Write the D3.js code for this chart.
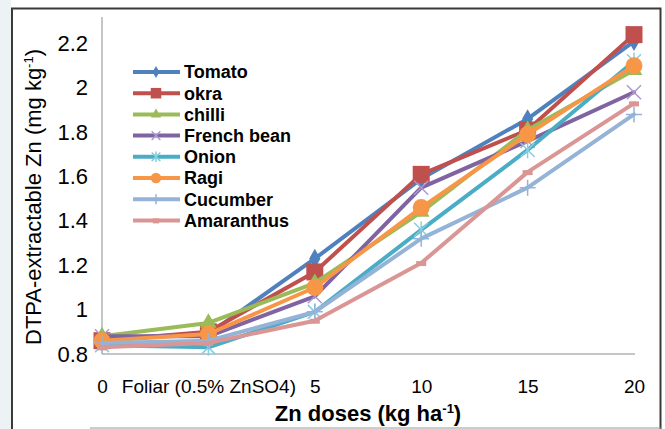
<!DOCTYPE html>
<html>
<head>
<meta charset="utf-8">
<script src="https://cdn.jsdelivr.net/npm/d3@7"></script>
<style>
body { margin: 0; background: #fff; }
svg { display: block; }
</style>
</head>
<body>
<div id="chart"></div>
<script>
// categories and values
var doses = ["0", "Foliar (0.5% ZnSO4)", "5", "10", "15", "20"];
var crops = ["Tomato", "okra", "chilli", "French bean", "Onion", "Ragi", "Cucumber", "Amaranthus"];

var tomato     = [0.87, 0.89, 1.23, 1.59, 1.86, 2.21];
var okra       = [0.86, 0.90, 1.17, 1.61, 1.81, 2.24];
var chilli     = [0.88, 0.94, 1.12, 1.44, 1.81, 2.08];
var frenchBean = [0.88, 0.88, 1.06, 1.55, 1.76, 1.98];
var onion      = [0.84, 0.83, 0.99, 1.36, 1.72, 2.12];
var ragi       = [0.86, 0.89, 1.10, 1.46, 1.79, 2.10];
var cucumber   = [0.85, 0.86, 0.99, 1.32, 1.55, 1.88];
var amaranthus = [0.83, 0.85, 0.95, 1.21, 1.62, 1.93];

var yTicks = [0.8, 1, 1.2, 1.4, 1.6, 1.8, 2, 2.2];

var series = [
    {name: crops[0], values: tomato,     color: "#4F81BD", mark: "#4F81BD", shape: "diamond"},
    {name: crops[1], values: okra,       color: "#C0504D", mark: "#C0504D", shape: "square"},
    {name: crops[2], values: chilli,     color: "#9BBB59", mark: "#9BBB59", shape: "triangle"},
    {name: crops[3], values: frenchBean, color: "#8064A2", mark: "#A99BD0", shape: "x"},
    {name: crops[4], values: onion,      color: "#4BACC6", mark: "#86CFE0", shape: "star"},
    {name: crops[5], values: ragi,       color: "#F79646", mark: "#F79646", shape: "circle"},
    {name: crops[6], values: cucumber,   color: "#95B3D7", mark: "#95B3D7", shape: "plus"},
    {name: crops[7], values: amaranthus, color: "#D99694", mark: "#D99694", shape: "dash"}
];

var width = 665, height = 429;
var plot = {left: 102, right: 634, top: 17, bottom: 354};

var svg = d3.select("#chart")
            .append("svg")
            .attr("width", width)
            .attr("height", height)
            .style("font-family", "'Liberation Sans', Arial, sans-serif");

// slide background strip on the left and the chart frame
svg.append("rect")
    .attr("x", 0).attr("y", 0)
    .attr("width", 11).attr("height", height)
    .attr("fill", "#edf2f5");
svg.append("path")
    .attr("d", "M12,429V8.5H660.5V429")
    .attr("fill", "none")
    .attr("stroke", "#3a3a3a")
    .attr("stroke-width", 2);
svg.append("line")
    .attr("x1", 90).attr("x2", 661)
    .attr("y1", 428).attr("y2", 428)
    .attr("stroke", "#9a9a9a");

var x = d3.scalePoint()
        .domain(doses)
        .range([plot.left, plot.right]);

var y = d3.scaleLinear()
        .domain([0.8, 2.2])
        .range([plot.bottom, 43.5]);

// axis lines
svg.append("line")
    .attr("x1", plot.left).attr("x2", plot.left)
    .attr("y1", plot.top).attr("y2", plot.bottom)
    .attr("stroke", "#8c8c8c");
svg.append("line")
    .attr("x1", plot.left).attr("x2", plot.right + 1)
    .attr("y1", plot.bottom).attr("y2", plot.bottom)
    .attr("stroke", "#8c8c8c");

var yAxis = svg.append("g")
    .attr("transform", "translate(" + plot.left + ",0)")
    .call(d3.axisLeft(y).tickValues(yTicks).tickSize(0).tickPadding(14)
          .tickFormat(d => String(+d.toFixed(1))));
yAxis.select(".domain").remove();
yAxis.selectAll("text")
    .style("font-size", "22px")
    .style("font-family", "'Liberation Sans', Arial, sans-serif")
    .attr("fill", "#000");

var xAxis = svg.append("g")
    .attr("transform", "translate(0," + plot.bottom + ")")
    .call(d3.axisBottom(x).tickSize(0).tickPadding(26));
xAxis.select(".domain").remove();
xAxis.selectAll("text")
    .style("font-size", "19px")
    .style("font-family", "'Liberation Sans', Arial, sans-serif")
    .attr("fill", "#000");

// axis titles
var xTitle = svg.append("text")
    .attr("x", 368)
    .attr("y", 421)
    .attr("text-anchor", "middle")
    .style("font-size", "22px")
    .style("font-weight", "bold");
xTitle.append("tspan").text("Zn doses (kg ha");
xTitle.append("tspan").attr("dy", -8).style("font-size", "13px").text("-1");
xTitle.append("tspan").attr("dy", 8).text(")");

var yTitle = svg.append("text")
    .attr("transform", "translate(33,197) rotate(-90)")
    .attr("text-anchor", "middle")
    .attr("dy", "0.35em")
    .style("font-size", "22px");
yTitle.append("tspan").text("DTPA-extractable Zn (mg kg");
yTitle.append("tspan").attr("dy", -8).style("font-size", "13px").text("-1");
yTitle.append("tspan").attr("dy", 8).text(")");

// marker drawing
function marker(g, s, cx, cy, k) {
    if (s.shape == "diamond") {
        g.append("path").attr("d", d3.symbol(d3.symbolDiamond, 110 * k * k)())
            .attr("transform", `translate(${cx},${cy})`).attr("fill", s.mark);
    } else if (s.shape == "square") {
        g.append("rect").attr("x", cx - 8.5 * k).attr("y", cy - 8.5 * k)
            .attr("width", 17 * k).attr("height", 17 * k).attr("fill", s.mark);
    } else if (s.shape == "triangle") {
        g.append("path").attr("d", d3.symbol(d3.symbolTriangle, 120 * k * k)())
            .attr("transform", `translate(${cx},${cy})`).attr("fill", s.mark);
    } else if (s.shape == "circle") {
        g.append("circle").attr("cx", cx).attr("cy", cy).attr("r", 8.5 * k).attr("fill", s.mark);
    } else if (s.shape == "x") {
        var r = 7 * k;
        g.append("path").attr("d", `M${cx-r},${cy-r}L${cx+r},${cy+r}M${cx-r},${cy+r}L${cx+r},${cy-r}`)
            .attr("stroke", s.mark).attr("stroke-width", 1.5);
    } else if (s.shape == "star") {
        var r = 7 * k;
        g.append("path").attr("d", `M${cx-r},${cy-r}L${cx+r},${cy+r}M${cx-r},${cy+r}L${cx+r},${cy-r}M${cx},${cy-r*1.2}L${cx},${cy+r*1.2}`)
            .attr("stroke", s.mark).attr("stroke-width", 1.5);
    } else if (s.shape == "plus") {
        var r = 8 * k;
        g.append("path").attr("d", `M${cx-r},${cy}L${cx+r},${cy}M${cx},${cy-r}L${cx},${cy+r}`)
            .attr("stroke", s.mark).attr("stroke-width", 1.5);
    } else if (s.shape == "dash") {
        g.append("rect").attr("x", cx - 5 * k).attr("y", cy - 2)
            .attr("width", 10 * k).attr("height", 5).attr("fill", s.mark);
    }
}

var line = d3.line()
    .x((d, i) => x(doses[i]))
    .y(d => y(d));

var lines = svg.append("g");
series.forEach(function(s) {
    var g = lines.append("g").attr("class", "series");
    g.append("path")
        .attr("d", line(s.values))
        .attr("fill", "none")
        .attr("stroke", s.color)
        .attr("stroke-width", 4)
        .attr("stroke-linejoin", "round")
        .attr("stroke-linecap", "round");
    s.values.forEach(function(v, i) {
        marker(g, s, x(doses[i]), y(v), 1);
    });
});

// legend
var legend = svg.append("g");
series.forEach(function(s, i) {
    var ly = 72 + i * 21.2;
    legend.append("line")
        .attr("x1", 133).attr("x2", 180)
        .attr("y1", ly).attr("y2", ly)
        .attr("stroke", s.color)
        .attr("stroke-width", 4);
    marker(legend, s, 156, ly, 0.62);
    legend.append("text")
        .attr("x", 184)
        .attr("y", ly)
        .attr("dy", "0.36em")
        .style("font-size", "18px")
        .style("font-weight", "bold")
        .text(s.name);
});
</script>
</body>
</html>
